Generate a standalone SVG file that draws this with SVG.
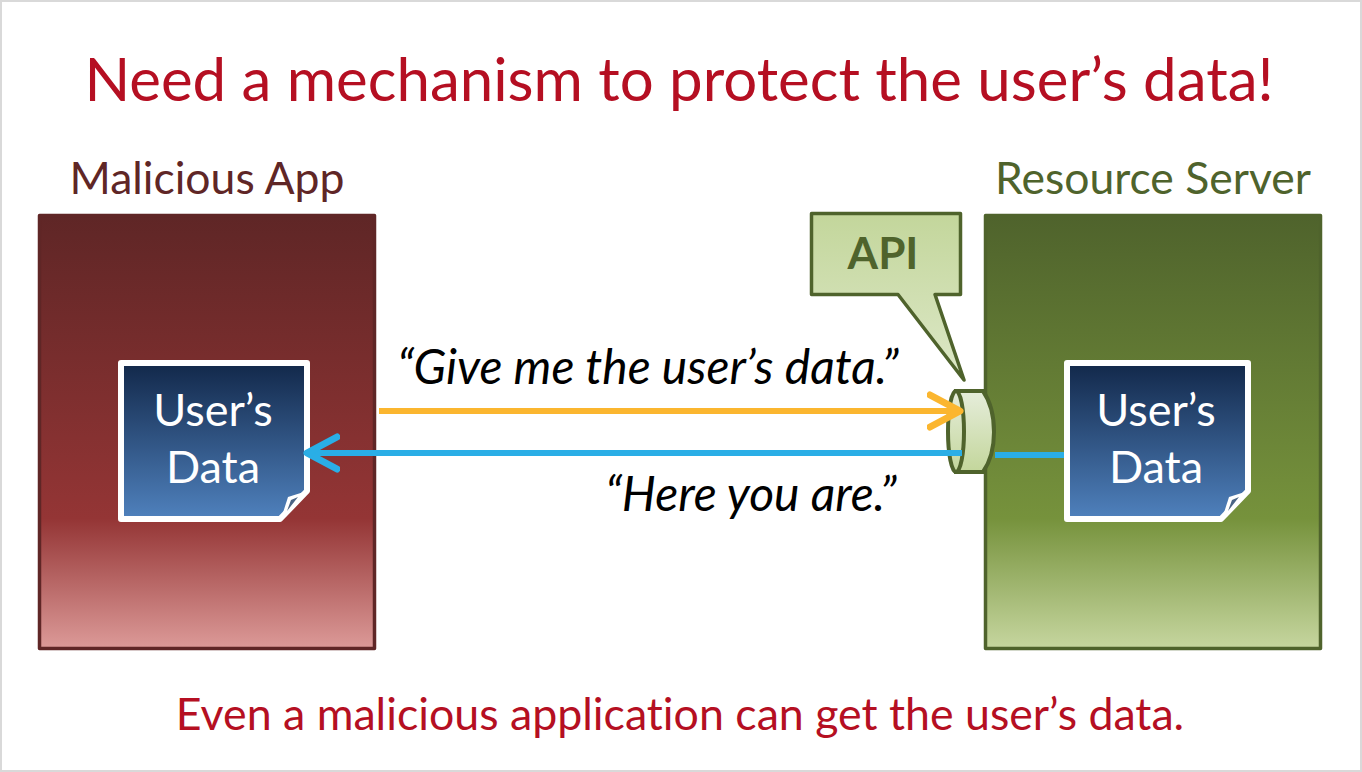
<svg xmlns="http://www.w3.org/2000/svg" width="1362" height="772" viewBox="0 0 1362 772">
<defs>
<linearGradient id="red" x1="0" y1="0" x2="0" y2="1"><stop offset="0" stop-color="#5f2626"/><stop offset="0.7" stop-color="#943535"/><stop offset="1" stop-color="#dc9a98"/></linearGradient>
<linearGradient id="green" x1="0" y1="0" x2="0" y2="1"><stop offset="0" stop-color="#4f632c"/><stop offset="0.7" stop-color="#76923c"/><stop offset="1" stop-color="#c6d69f"/></linearGradient>
<linearGradient id="doc" x1="0" y1="0" x2="0" y2="1"><stop offset="0" stop-color="#12284a"/><stop offset="1" stop-color="#4f81bd"/></linearGradient>
<linearGradient id="api" x1="0" y1="0" x2="0" y2="1"><stop offset="0" stop-color="#c3d69b"/><stop offset="1" stop-color="#dde8c8"/></linearGradient>
<linearGradient id="port" x1="0" y1="0" x2="0" y2="1"><stop offset="0" stop-color="#e6eddb"/><stop offset="1" stop-color="#c3d69b"/></linearGradient>
<marker id="hy" markerUnits="userSpaceOnUse" markerWidth="40" markerHeight="44" refX="33" refY="22" orient="auto"><path d="M3 6L33 22L3 38" fill="none" stroke="#fbb62f" stroke-width="7" stroke-linecap="round" stroke-linejoin="round"/></marker>
<marker id="hb" markerUnits="userSpaceOnUse" markerWidth="40" markerHeight="44" refX="33" refY="22" orient="auto"><path d="M3 6L33 22L3 38" fill="none" stroke="#2aaee6" stroke-width="7" stroke-linecap="round" stroke-linejoin="round"/></marker>
</defs>
<style>
text{font-family:Lato,"Open Sans",sans-serif;font-variant-ligatures:none}
.t{text-anchor:middle}
.d{fill:#fff;font-size:45px;text-anchor:middle}
.q{fill:#000;font-size:48px;font-style:italic;text-anchor:middle}
.doc{fill:url(#doc);stroke:#fff;stroke-width:6;stroke-linejoin:round}
.box{stroke-width:3.500;stroke-linejoin:round}
</style>
<rect x="1" y="1" width="1360" height="770" fill="#fff" stroke="#d9d9d9" stroke-width="2"/>
<text id="title" class="t" x="679" y="101" font-size="60" fill="#b50f22">Need a mechanism to protect the user’s data!</text>
<g id="malicious-app">
<rect class="box" x="39.500" y="215.500" width="335" height="433" fill="url(#red)" stroke="#5f2626"/>
<text class="t" x="207" y="194" font-size="44.500" fill="#5f2626">Malicious App</text>
</g>
<g id="resource-server">
<rect class="box" x="985.500" y="215.500" width="335" height="433" fill="url(#green)" stroke="#4f632c"/>
<text class="t" x="1153" y="194" font-size="44.500" fill="#4f632c">Resource Server</text>
</g>
<g id="api-callout">
<path class="box" d="M811.500 213.500H960.500V294.500H935L964 380L898 294.500H811.500Z" fill="url(#api)" stroke="#4f632c"/>
<text x="883" y="269" font-size="44" font-weight="700" fill="#4f632c" text-anchor="middle">API</text>
</g>
<g id="api-port">
<path d="M956 391H983C990 401 994 416 994 432C994 448 990 462 983 472H956L956 391Z" fill="url(#port)" stroke="#4f632c" stroke-width="4"/>
<ellipse cx="956" cy="431.500" rx="8" ry="40.500" fill="url(#port)" stroke="#4f632c" stroke-width="4"/>
</g>
<g id="doc-left">
<path class="doc" d="M121 363H307V491L280 519H121Z"/>
<path d="M281 519L288 497L307 491Z" fill="#fff"/><path d="M287 511L291 500L298 497Z" fill="#4a6485"/>
<text class="d" x="213" y="426">User’s</text><text class="d" x="213" y="483">Data</text>
</g>
<g id="doc-right">
<path class="doc" d="M1067 363H1248V491L1221 519H1067Z"/>
<path d="M1222 519L1229 497L1248 491Z" fill="#fff"/><path d="M1228 511L1232 500L1239 497Z" fill="#4a6485"/>
<text class="d" x="1156" y="426">User’s</text><text class="d" x="1156" y="483">Data</text>
</g>
<g id="connectors">
<path d="M379 411H960" fill="none" stroke="#fbb62f" stroke-width="6" marker-end="url(#hy)"/>
<path d="M962 453H307" fill="none" stroke="#2aaee6" stroke-width="6" marker-end="url(#hb)"/>
<path d="M995 455H1064" fill="none" stroke="#2aaee6" stroke-width="6"/>
</g>
<text class="q" x="648" y="384">“Give me the user’s data.”</text>
<text class="q" x="751" y="511">“Here you are.”</text>
<text id="footer" class="t" x="680" y="730" font-size="44.700" fill="#b50f22">Even a malicious application can get the user’s data.</text>
</svg>
